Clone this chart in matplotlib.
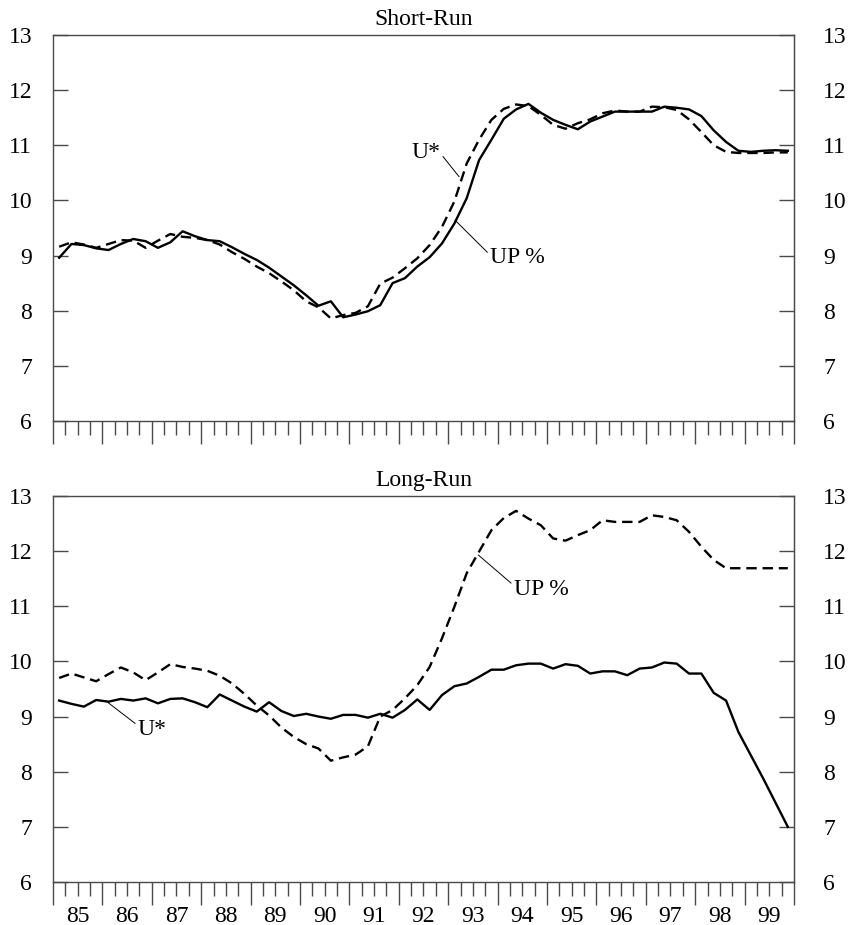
import numpy as np
import matplotlib
matplotlib.use("Agg")
import matplotlib.pyplot as plt
from matplotlib.ticker import FixedLocator, FuncFormatter

plt.rcParams['font.family'] = ['Liberation Serif', 'DejaVu Serif']
plt.rcParams['lines.scale_dashes'] = False

# quarterly data, 1985Q1 .. 1999Q4 (plotted at mid-quarter)
quarters = np.arange(60)
years = [str(y) for y in range(85, 100)]

# Short-Run
sr_up = [8.96, 9.21, 9.19, 9.13, 9.10, 9.21, 9.30, 9.26, 9.14, 9.24,
         9.44, 9.35, 9.28, 9.26, 9.15, 9.03, 8.92, 8.78, 8.62, 8.46,
         8.28, 8.09, 8.17, 7.88, 7.93, 7.99, 8.10, 8.50, 8.59, 8.80,
         8.97, 9.22, 9.58, 10.04, 10.73, 11.10, 11.48, 11.65, 11.75, 11.59,
         11.46, 11.37, 11.29, 11.43, 11.52, 11.61, 11.61, 11.61, 11.61, 11.70,
         11.68, 11.65, 11.53, 11.27, 11.06, 10.90, 10.88, 10.90, 10.91, 10.90]
sr_ustar = [9.16, 9.24, 9.20, 9.14, 9.21, 9.28, 9.27, 9.14, 9.27, 9.39,
            9.34, 9.32, 9.28, 9.20, 9.06, 8.94, 8.80, 8.68, 8.53, 8.37,
            8.17, 8.06, 7.86, 7.92, 7.96, 8.08, 8.49, 8.60, 8.77, 8.95,
            9.19, 9.52, 9.98, 10.67, 11.10, 11.46, 11.66, 11.74, 11.71, 11.55,
            11.37, 11.30, 11.40, 11.47, 11.58, 11.63, 11.61, 11.61, 11.70, 11.69,
            11.64, 11.47, 11.24, 11.00, 10.88, 10.86, 10.86, 10.86, 10.87, 10.87]

# Long-Run
lr_ustar = [9.29, 9.23, 9.18, 9.30, 9.27, 9.32, 9.29, 9.33, 9.24, 9.32,
            9.33, 9.26, 9.17, 9.40, 9.29, 9.18, 9.09, 9.26, 9.10, 9.01,
            9.05, 9.00, 8.96, 9.03, 9.03, 8.98, 9.05, 8.98, 9.12, 9.31,
            9.12, 9.39, 9.55, 9.60, 9.72, 9.85, 9.85, 9.93, 9.96, 9.96,
            9.87, 9.95, 9.92, 9.78, 9.82, 9.82, 9.75, 9.87, 9.89, 9.98,
            9.96, 9.78, 9.78, 9.43, 9.29, 8.72, 8.30, 7.88, 7.44, 7.00]
lr_up = [9.70, 9.78, 9.71, 9.64, 9.77, 9.89, 9.80, 9.66, 9.80, 9.95,
         9.90, 9.87, 9.83, 9.74, 9.60, 9.41, 9.20, 9.02, 8.80, 8.63,
         8.50, 8.42, 8.20, 8.26, 8.31, 8.46, 9.00, 9.12, 9.33, 9.57,
         9.90, 10.42, 10.99, 11.60, 11.99, 12.38, 12.60, 12.73, 12.59, 12.47,
         12.23, 12.19, 12.29, 12.38, 12.56, 12.53, 12.53, 12.53, 12.65, 12.62,
         12.56, 12.35, 12.08, 11.84, 11.69, 11.69, 11.69, 11.69, 11.69, 11.69]

x = 85 + (quarters + 0.5) / 4.0

fig = plt.figure(figsize=(8.49, 9.25), dpi=100)
ax1 = fig.add_axes([0.0624, 0.5449, 0.8728, 0.4173])
ax2 = fig.add_axes([0.0624, 0.0465, 0.8728, 0.4173])

spine_col = '#4a4a4a'
dash = (0, (7.5, 4.2))
fs = 17


def style(ax, title, show_years):
    ax.set_xlim(85, 100)
    ax.set_ylim(6, 13)
    ax.set_yticks(range(6, 14))
    ax.tick_params(axis='y', direction='in', length=11, width=1.0,
                   left=True, right=False, labelleft=True, labelright=False,
                   labelsize=fs, pad=15, color=spine_col)
    # right-hand scale, same values
    sec = ax.secondary_yaxis('right')
    sec.set_yticks(range(6, 14))
    sec.tick_params(axis='y', direction='in', length=11, width=1.0,
                    labelsize=fs, pad=21, color=spine_col)
    sec.spines['right'].set_color(spine_col)
    ax.xaxis.set_major_locator(FixedLocator(range(85, 101)))
    ax.xaxis.set_minor_locator(FixedLocator([85 + q / 4 for q in range(61) if q % 4]))
    ax.tick_params(axis='x', which='major', direction='out', length=16.5,
                   width=1.0, color=spine_col, labelbottom=False)
    ax.tick_params(axis='x', which='minor', direction='out', length=10,
                   width=1.0, color=spine_col, labelsize=fs, pad=7)
    if show_years:
        ax.xaxis.set_minor_formatter(FuncFormatter(
            lambda v, p: str(int(v)) if abs(v % 1 - 0.5) < 1e-6 else ''))
    else:
        ax.tick_params(axis='x', which='minor', labelbottom=False)
    for s in ax.spines.values():
        s.set_color(spine_col)
        s.set_linewidth(1.0)
    ax.set_title(title, fontsize=fs, pad=7)


# Short-Run panel
ax1.plot(x, sr_up, color='black', lw=1.7)
ax1.plot(x, sr_ustar, color='black', lw=1.7, linestyle=dash)
style(ax1, 'Short-Run', False)
ax1.annotate('U*', xy=(93.22, 10.43), xytext=(92.25, 10.86),
             fontsize=fs, va='center', ha='left',
             arrowprops=dict(arrowstyle='-', lw=0.7, color='black',
                             shrinkA=0, shrinkB=0, relpos=(1, 0.5)))
ax1.annotate('UP %', xy=(93.14, 9.64), xytext=(93.85, 8.97),
             fontsize=fs, va='center', ha='left',
             arrowprops=dict(arrowstyle='-', lw=0.7, color='black',
                             shrinkA=0, shrinkB=0, relpos=(0, 0.6)))

# Long-Run panel
ax2.plot(x, lr_ustar, color='black', lw=1.7)
ax2.plot(x, lr_up, color='black', lw=1.7, linestyle=dash)
style(ax2, 'Long-Run', True)
ax2.annotate('U*', xy=(86.09, 9.27), xytext=(86.72, 8.76),
             fontsize=fs, va='center', ha='left',
             arrowprops=dict(arrowstyle='-', lw=0.7, color='black',
                             shrinkA=0, shrinkB=0, relpos=(0, 0.7)))
ax2.annotate('UP %', xy=(93.61, 11.93), xytext=(94.33, 11.30),
             fontsize=fs, va='center', ha='left',
             arrowprops=dict(arrowstyle='-', lw=0.7, color='black',
                             shrinkA=0, shrinkB=0, relpos=(0, 0.7)))

plt.savefig('out.png', dpi=100)
